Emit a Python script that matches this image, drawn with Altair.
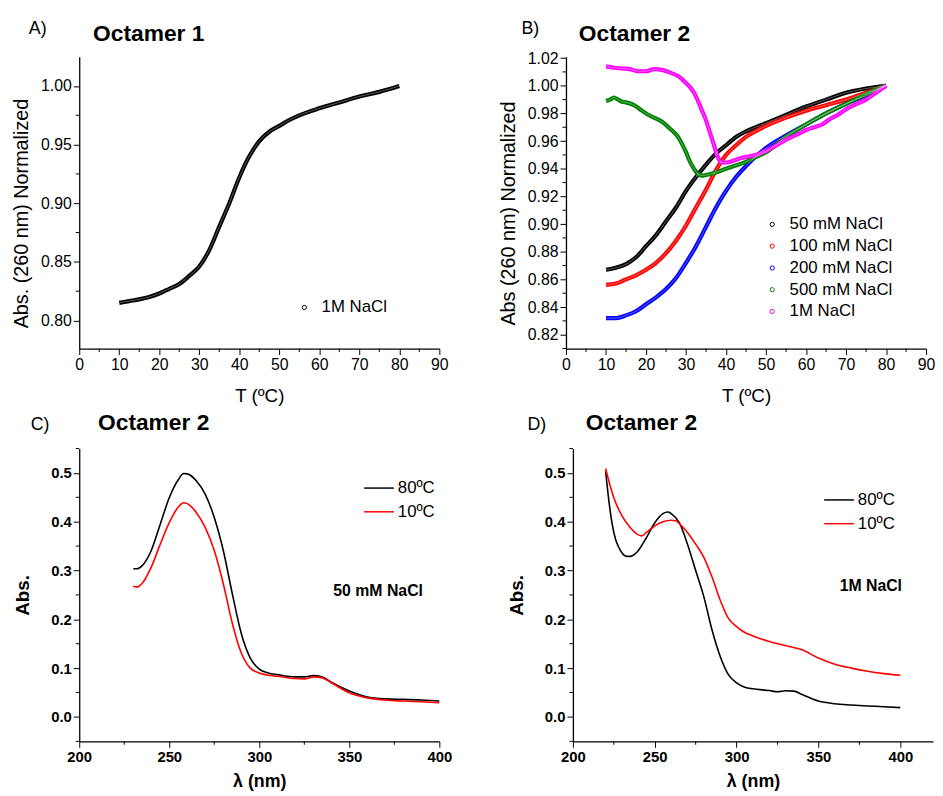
import altair as alt
import pandas as pd

FONT = "Liberation Sans"

# ---------------- Panel A: Octamer 1, 1M NaCl ----------------
a_T = [10, 12.5, 15, 17.5, 20, 22.5, 25, 27.5, 30, 32.5, 35, 37.5, 40, 42.5, 45,
       47.5, 50, 52.5, 55, 60, 65, 70, 75, 80]
a_abs = [0.815, 0.8165, 0.818, 0.820, 0.823, 0.827, 0.831, 0.838, 0.846, 0.860,
         0.880, 0.900, 0.922, 0.940, 0.953, 0.961, 0.966, 0.971, 0.975, 0.981,
         0.986, 0.991, 0.995, 1.000]

# ---------------- Panel B: Octamer 2, NaCl series ----------------
b_series = ["50 mM NaCl", "100 mM NaCl", "200 mM NaCl", "500 mM NaCl", "1M NaCl"]
b_colors = ["#000000", "#ff0000", "#0000ff", "#008000", "#ff00ff"]

b50_T = [10, 12, 15, 17.5, 20, 22.5, 25, 27.5, 30, 32.5, 35, 37.5, 40, 42.5, 45,
         50, 55, 60, 65, 70, 75, 80]
b50_abs = [0.867, 0.868, 0.871, 0.876, 0.884, 0.892, 0.902, 0.912, 0.924, 0.934,
           0.943, 0.951, 0.957, 0.963, 0.967, 0.973, 0.979, 0.985, 0.990, 0.995,
           0.998, 1.000]

b100_T = [10, 12.5, 15, 17.5, 20, 22.5, 25, 27.5, 30, 32.5, 35, 37.5, 40, 42.5,
          45, 50, 55, 60, 65, 70, 75, 80]
b100_abs = [0.856, 0.857, 0.860, 0.863, 0.867, 0.872, 0.879, 0.888, 0.899, 0.912,
            0.925, 0.939, 0.950, 0.957, 0.963, 0.971, 0.977, 0.982, 0.986, 0.990,
            0.995, 1.000]

b200_T = [10, 12.5, 15, 17.5, 20, 22.5, 25, 27.5, 30, 32.5, 35, 37.5, 40, 42.5,
          45, 47.5, 50, 55, 60, 65, 70, 75, 80]
b200_abs = [0.832, 0.832, 0.834, 0.837, 0.842, 0.847, 0.853, 0.861, 0.872, 0.884,
            0.898, 0.912, 0.924, 0.934, 0.942, 0.949, 0.955, 0.964, 0.972, 0.980,
            0.987, 0.993, 1.000]

b500_T = [10, 11, 12, 13, 14, 15, 17, 19, 20, 22, 24, 26, 28, 29, 30, 31, 32, 33,
          34, 35, 37, 40, 42, 45, 47, 50, 55, 60, 65, 70, 75, 80]
b500_abs = [0.989, 0.990, 0.9915, 0.990, 0.9885, 0.988, 0.986, 0.982, 0.980,
            0.977, 0.974, 0.969, 0.963, 0.958, 0.952, 0.945, 0.940, 0.936, 0.935,
            0.9355, 0.937, 0.940, 0.942, 0.945, 0.948, 0.952, 0.963, 0.972,
            0.980, 0.987, 0.994, 1.000]

b1M_T = [10, 12, 14, 16, 18, 20, 22, 24, 26, 28, 30, 31, 32, 33, 34, 35, 36, 37,
         38, 39, 40, 42, 44, 46, 48, 50, 52, 55, 58, 60, 62, 64, 66, 68, 70, 72,
         75, 78, 80]
b1M_abs = [1.014, 1.013, 1.0125, 1.012, 1.0105, 1.0105, 1.012, 1.0115, 1.0095,
           1.007, 1.002, 0.999, 0.995, 0.989, 0.982, 0.975, 0.966, 0.957, 0.948,
           0.9445, 0.9445, 0.946, 0.948, 0.949, 0.9505, 0.953, 0.956, 0.961,
           0.965, 0.968, 0.970, 0.972, 0.976, 0.979, 0.983, 0.986, 0.990, 0.996,
           1.000]

# ---------------- Panel C: Octamer 2, 50 mM NaCl spectra ----------------
c_wl = [230, 232, 235, 240, 245, 250, 255, 258, 260, 265, 270, 275, 280, 285, 290,
        295, 300, 305, 310, 320, 325, 330, 335, 340, 350, 360, 370, 380, 390, 400]
c_80 = [0.3035, 0.3035, 0.310, 0.341, 0.395, 0.449, 0.486, 0.4986, 0.498, 0.484,
        0.456, 0.4085, 0.341, 0.2527, 0.171, 0.1206, 0.098, 0.090, 0.0867, 0.082,
        0.082, 0.0847, 0.082, 0.071, 0.053, 0.0407, 0.037, 0.036, 0.0346, 0.0325]
c_10 = [0.2676, 0.266, 0.274, 0.307, 0.354, 0.398, 0.430, 0.439, 0.437, 0.419,
        0.388, 0.341, 0.273, 0.192, 0.131, 0.100, 0.090, 0.0854, 0.0833, 0.0786,
        0.078, 0.082, 0.080, 0.070, 0.0495, 0.039, 0.0346, 0.0325, 0.031, 0.029]

# ---------------- Panel D: Octamer 2, 1M NaCl spectra ----------------
d_wl = [220, 222, 224, 226, 228, 230, 233, 235, 238, 240, 245, 250, 255, 258, 260,
        265, 270, 275, 280, 285, 290, 295, 300, 305, 310, 320, 325, 330, 335, 340,
        350, 360, 370, 380, 390, 400]
d_80 = [0.503, 0.442, 0.395, 0.3645, 0.3476, 0.336, 0.329, 0.329, 0.334, 0.341,
        0.368, 0.398, 0.4167, 0.420, 0.4167, 0.398, 0.354, 0.300, 0.246, 0.178,
        0.124, 0.0867, 0.0698, 0.061, 0.0576, 0.054, 0.0515, 0.0535, 0.0528, 0.046,
        0.0325, 0.027, 0.0244, 0.0224, 0.021, 0.019]
d10_wl = [220, 222, 225, 230, 235, 240, 242, 245, 250, 255, 260, 263, 265, 270,
          275, 280, 285, 290, 295, 300, 305, 310, 320, 330, 340, 350, 360, 370,
          380, 390, 400]
d_10 = [0.509, 0.483, 0.449, 0.412, 0.388, 0.373, 0.371, 0.378, 0.3916, 0.400,
        0.403, 0.402, 0.396, 0.378, 0.354, 0.327, 0.2866, 0.239, 0.202, 0.185,
        0.173, 0.166, 0.1545, 0.1457, 0.1375, 0.1206, 0.108, 0.100, 0.0935,
        0.0888, 0.0854]

temps = ["80ºC", "10ºC"]
temp_colors = ["#000000", "#ff0000"]

panel_letters = ["A)", "B)", "C)", "D)"]
panel_titles = ["Octamer 1", "Octamer 2", "Octamer 2", "Octamer 2"]
salt_notes = ["50 mM NaCl", "1M NaCl"]

# tick positions
t_major = [0, 10, 20, 30, 40, 50, 60, 70, 80, 90]
t_minor = [5, 15, 25, 35, 45, 55, 65, 75, 85]
a_major = [0.80, 0.85, 0.90, 0.95, 1.00]
a_minor = [0.825, 0.875, 0.925, 0.975]
b_major = [0.82, 0.84, 0.86, 0.88, 0.90, 0.92, 0.94, 0.96, 0.98, 1.00, 1.02]
b_minor = [0.81, 0.83, 0.85, 0.87, 0.89, 0.91, 0.93, 0.95, 0.97, 0.99, 1.01]
w_major = [200, 250, 300, 350, 400]
w_minor = [225, 275, 325, 375]
s_major = [0.0, 0.1, 0.2, 0.3, 0.4, 0.5]
s_minor = [-0.05, 0.05, 0.15, 0.25, 0.35, 0.45, 0.55]

W, H = 364, 295


def frame(xs, ys, name):
    return pd.DataFrame({"x": xs, "y": ys, "s": [name] * len(xs)})


def axis(title, values, fmt, bold, label_size, title_size, title_pad, **extra):
    w = "bold" if bold else "normal"
    return alt.Axis(
        title=title, values=values, format=fmt, tickSize=6,
        tickColor="black", tickWidth=1, domainColor="black", domainWidth=1.3,
        labelColor="black", labelFont=FONT, labelFontSize=label_size,
        labelFontWeight=w, labelPadding=2, labelOverlap=False, labelFlush=False,
        titleColor="black", titleFont=FONT, titleFontSize=title_size,
        titleFontWeight=w, titlePadding=title_pad, grid=False, **extra
    )


def minor_ticks(xs, ys, h):
    rx = alt.Chart(pd.DataFrame({"x": xs})).mark_rule(color="black", strokeWidth=1).encode(
        y=alt.value(h), y2=alt.value(h + 3.5))
    ry = alt.Chart(pd.DataFrame({"y": ys})).mark_rule(color="black", strokeWidth=1).encode(
        x=alt.value(0), x2=alt.value(-3.5))
    return [rx, ry]


def heading(idx, lx, tx, ty, ly):
    d = pd.DataFrame({"a": [panel_letters[idx]], "b": [panel_titles[idx]]})
    base = alt.Chart(d)
    letter = base.mark_text(font=FONT, fontSize=18, align="left",
                            baseline="alphabetic", color="black").encode(
        text="a:N", x=alt.value(lx), y=alt.value(ly))
    title = base.mark_text(font=FONT, fontSize=23, fontWeight="bold",
                           align="left", baseline="alphabetic",
                           color="black").encode(
        text="b:N", x=alt.value(tx), y=alt.value(ty))
    return [letter, title]


def melting(df, ydom, ytitle, ymaj, ymin, colors, domain, legx, legy, idx, lx, tx):
    xenc = alt.X("x:Q", scale=alt.Scale(domain=[0, 90], nice=False),
                 axis=axis("T (ºC)", t_major, "d", False, 16, 19, 15))
    yenc = alt.Y("y:Q", scale=alt.Scale(domain=ydom, nice=False, zero=False),
                 axis=axis(ytitle, ymaj, ".2f", False, 16, 20, 9, titleY=158))
    band = alt.Chart(df).mark_line(strokeWidth=4.2, interpolate="monotone").encode(
        detail="s:N",
        color=alt.Color("s:N", scale=alt.Scale(domain=domain, range=colors),
                        legend=alt.Legend(title=None, orient="none", legendX=legx,
                                          legendY=legy, symbolType="circle",
                                          symbolSize=18, symbolStrokeWidth=1,
                                          labelFont=FONT, labelFontSize=17,
                                          labelColor="black", labelOffset=9,
                                          rowPadding=4, padding=0)))
    core = alt.Chart(df).mark_line(strokeWidth=1.0, color="white", opacity=0.35,
                                   interpolate="monotone").encode(detail="s:N")
    layers = [band, core] + minor_ticks(t_minor, ymin, H) + heading(idx, lx, tx, -16, -23)
    return alt.layer(*layers).encode(x=xenc, y=yenc).properties(width=W, height=H)


def spectra(df, xdom, idx, note, note_xy, legx, legy, lx, tx):
    xenc = alt.X("x:Q", scale=alt.Scale(domain=xdom, nice=False),
                 axis=axis("λ (nm)", w_major, "d", True, 15, 18, 9))
    yenc = alt.Y("y:Q", scale=alt.Scale(domain=[-0.05, 0.55], nice=False, zero=False),
                 axis=axis("Abs.", s_major, ".1f", True, 15, 19, 18))
    lines = alt.Chart(df).mark_line(strokeWidth=1.6, interpolate="monotone").encode(
        detail="s:N",
        color=alt.Color("s:N", scale=alt.Scale(domain=temps, range=temp_colors),
                        legend=alt.Legend(title=None, orient="none", legendX=legx,
                                          legendY=legy, symbolType="stroke",
                                          symbolSize=900, symbolStrokeWidth=1.5,
                                          labelFont=FONT, labelFontSize=17,
                                          labelColor="black", labelOffset=3,
                                          rowPadding=0, padding=0)))
    nd = pd.DataFrame({"x": [note_xy[0]], "y": [note_xy[1]], "t": [note]})
    txt = alt.Chart(nd).mark_text(font=FONT, fontSize=16, fontWeight="bold",
                                  color="black").encode(text="t:N")
    layers = [lines, txt] + minor_ticks(w_minor, s_minor, H + 1) + heading(idx, lx, tx, -19, -19)
    return alt.layer(*layers).encode(x=xenc, y=yenc).properties(width=W, height=H + 1)


dfa = frame(a_T, a_abs, "1M NaCl")
dfb = pd.concat([
    frame(b50_T, b50_abs, b_series[0]),
    frame(b100_T, b100_abs, b_series[1]),
    frame(b200_T, b200_abs, b_series[2]),
    frame(b500_T, b500_abs, b_series[3]),
    frame(b1M_T, b1M_abs, b_series[4]),
])
dfc = pd.concat([frame(c_wl, c_80, temps[0]), frame(c_wl, c_10, temps[1])])
dfd = pd.concat([frame(d_wl, d_80, temps[0]), frame(d10_wl, d_10, temps[1])])

chartA = melting(dfa, [0.776, 1.025], "Abs. (260 nm) Normalized", a_major, a_minor,
                 ["black"], ["1M NaCl"], 219, 245, 0, -51, 14)
chartB = melting(dfb, [0.81, 1.021], "Abs (260 nm) Normalized", b_major, b_minor,
                 b_colors, b_series, 200, 161, 1, -45, 13)
chartC = spectra(dfc, [200, 400], 2, salt_notes[0], (366, 0.258), 287, 24, -49, 19)
chartD = spectra(dfd, [200, 420], 3, salt_notes[1], (382, 0.268), 253, 36, -46, 13)

row1 = alt.hconcat(chartA, chartB, spacing=50).resolve_scale(color="independent").resolve_legend(color="independent")
row2 = alt.hconcat(chartC, chartD, spacing=56).resolve_scale(color="independent").resolve_legend(color="independent")
chart = alt.vconcat(row1, row2, spacing=6).resolve_scale(color="independent").resolve_legend(
    color="independent").properties(
    padding={"left": 3, "top": 8, "right": 0, "bottom": 0}, background="white"
).configure_view(stroke=None)

chart.save("out.html", embed_options={"renderer": "svg", "actions": False})
